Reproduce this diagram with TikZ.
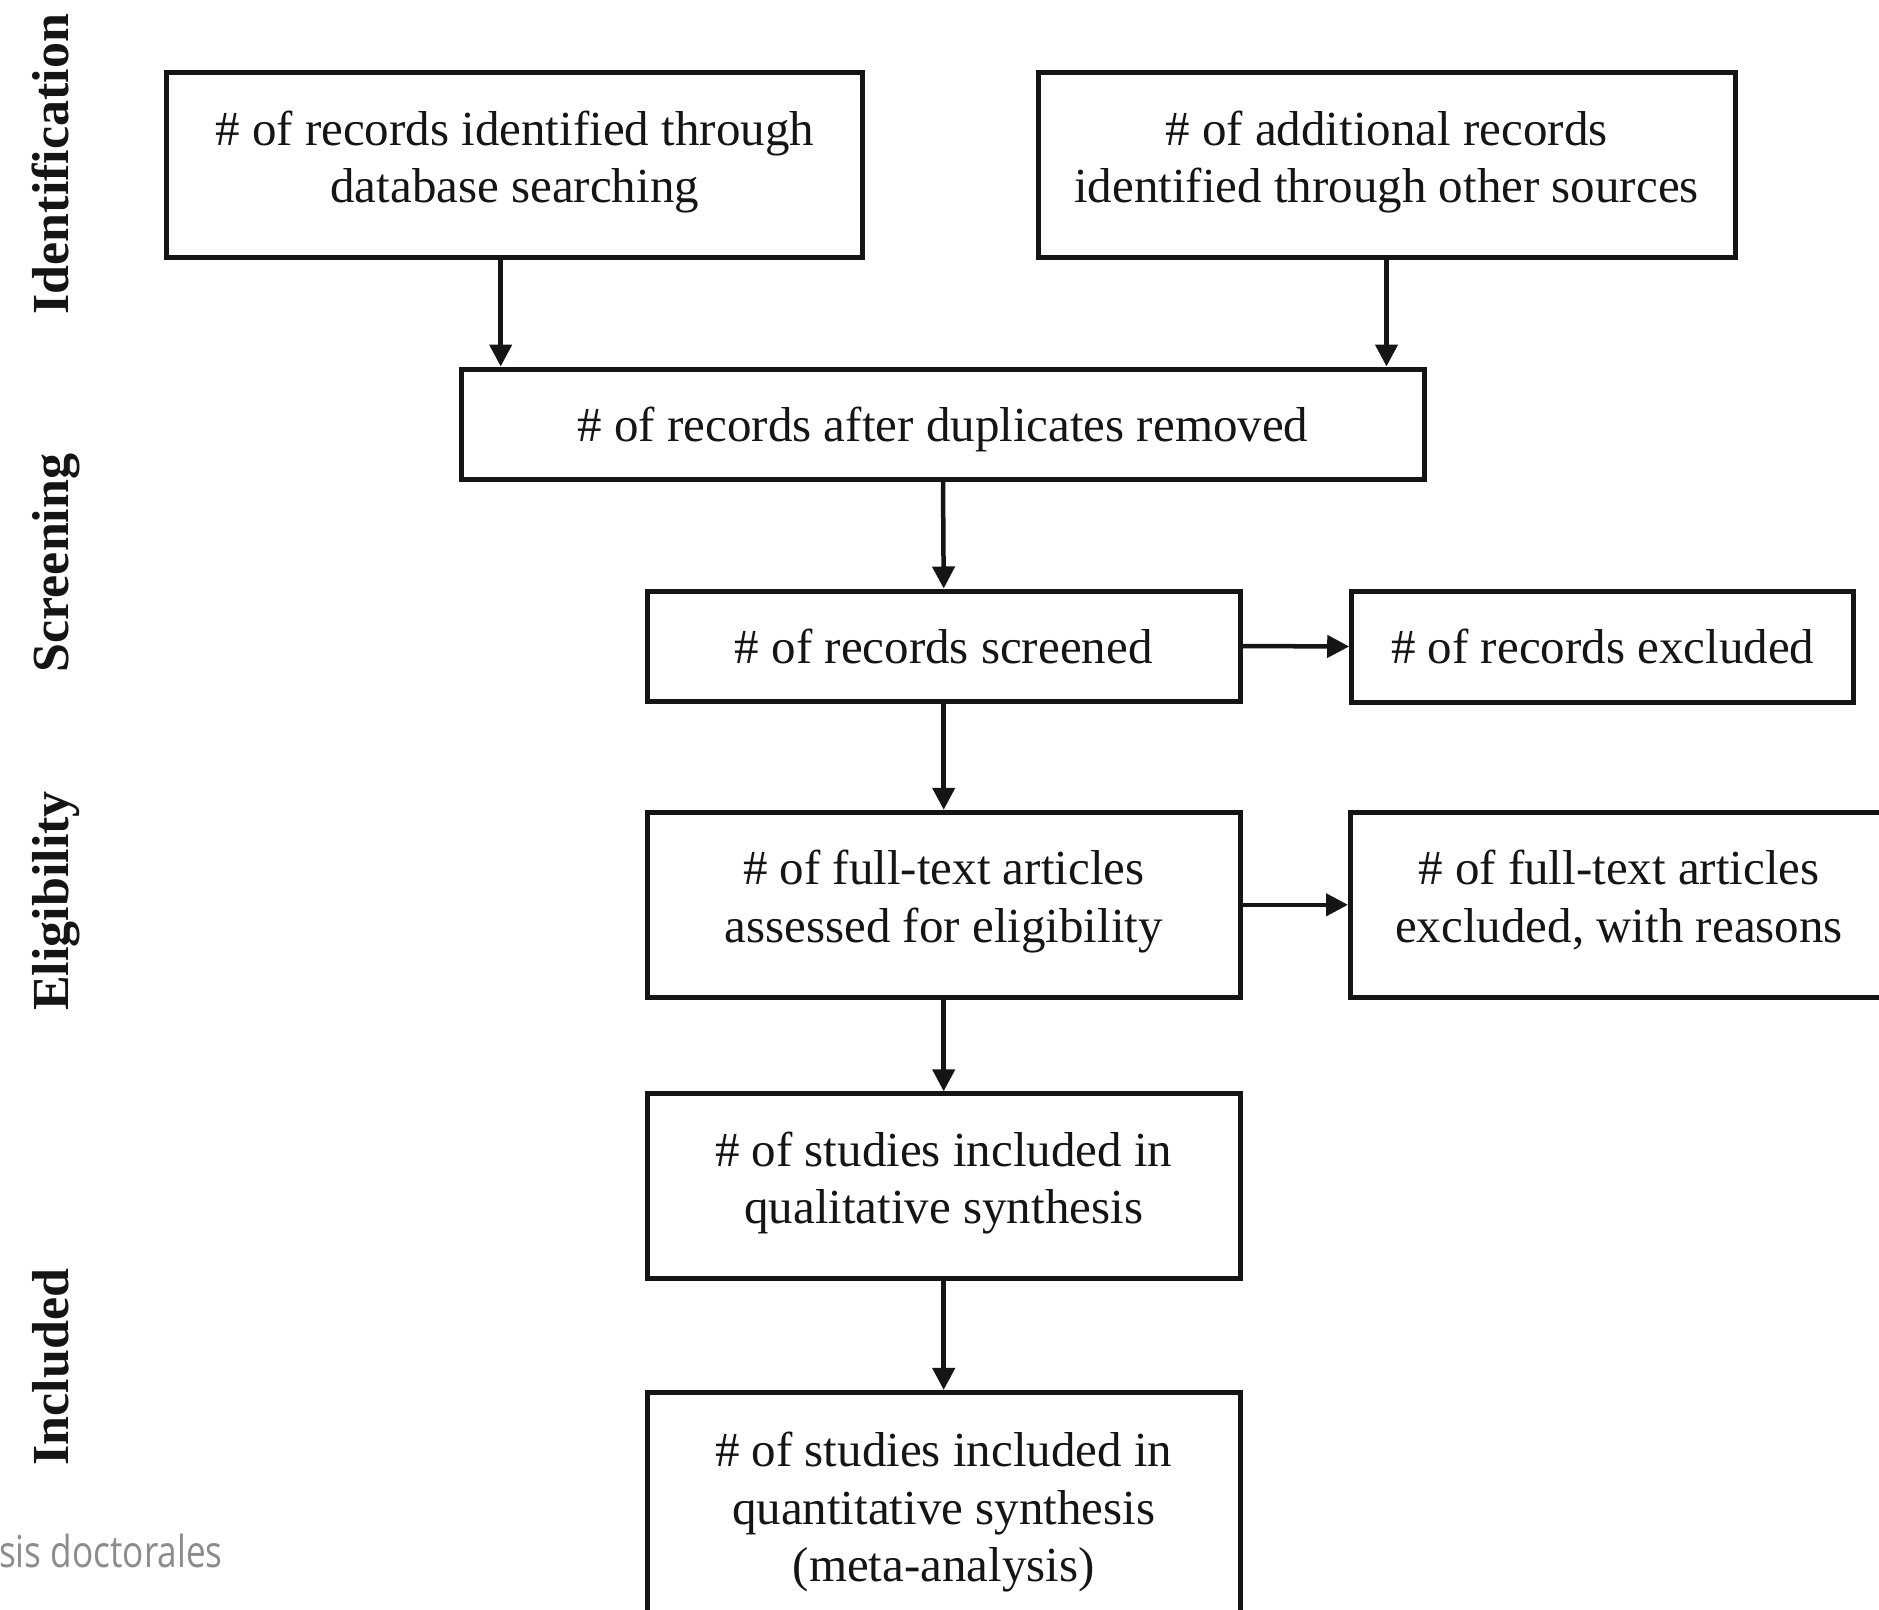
\documentclass[tikz,border=0pt]{standalone}
\usepackage{fontspec}
\setmainfont{Liberation Serif}
\newfontfamily\wmfont[FakeStretch=0.8]{Open Sans}
\usetikzlibrary{arrows.meta}
\definecolor{ink}{HTML}{151515}
\definecolor{wmgray}{HTML}{8C8C8C}
\begin{document}
\begin{tikzpicture}[x=1pt,y=-1pt,
  box/.style={draw=ink, text=ink, line width=5pt, align=center, inner sep=0pt,
    font=\fontsize{49}{57.5}\selectfont},
  twoline/.style={text depth=17pt},
  arr/.style={draw=ink, line width=4.5pt, -{Triangle[length=22pt,width=22pt]}},
  phase/.style={rotate=90, anchor=base, text=ink, font=\bfseries\fontsize{52}{60}\selectfont},
  wm/.style={anchor=base west, text=wmgray, inner sep=0pt, font=\wmfont\fontsize{44}{50}\selectfont}]
\useasboundingbox (0,0) rectangle (1879,1609);
\fill[white] (0,0) rectangle (1879,1609);

% phase labels
\node[phase] (p1) at (68,164) {Identification};
\node[phase] (p2) at (68,563) {Screening};
\node[phase] (p3) at (68,901) {Eligibility};
\node[phase] (p4) at (68,1367) {Included};

% boxes
\node[box, twoline, minimum width=696pt, minimum height=185pt] (b1) at (514.7,165.4)
  {\# of records identified through\\database searching};
\node[box, twoline, minimum width=697pt, minimum height=185pt] (b2) at (1386.5,165.4)
  {\# of additional records\\identified through other sources};
\node[box, text depth=0pt, minimum width=963pt, minimum height=110pt] (b3) at (943,424)
  {\# of records after duplicates removed};
\node[box, minimum width=593pt, minimum height=110pt] (b4) at (943.7,646)
  {\# of records screened};
\node[box, minimum width=502pt, minimum height=111pt] (b5) at (1602.7,646.5)
  {\# of records excluded};
\node[box, twoline, minimum width=593pt, minimum height=185pt] (b6) at (943.7,904.8)
  {\# of full-text articles\\assessed for eligibility};
\node[box, twoline, minimum width=537pt, minimum height=185pt] (b7) at (1619,904.8)
  {\# of full-text articles\\excluded, with reasons};
\node[box, twoline, minimum width=593pt, minimum height=185pt] (b8) at (943.7,1186.3)
  {\# of studies included in\\qualitative synthesis};
\node[box, minimum width=593pt, minimum height=240pt] (b9) at (943.7,1512.4)
  {\# of studies included in\\quantitative synthesis\\(meta-analysis)};

% connectors
\draw[arr] ([xshift=-14pt]b1.south) -- ([xshift=-14pt]b1.south |- b3.north);
\draw[arr] (b2.south) -- (b2.south |- b3.north);
\draw[arr] (b3.south) -- (b4.north);
\draw[arr] (b4.east) -- (b5.west);
\draw[arr] (b4.south) -- (b6.north);
\draw[arr] (b6.east) -- (b6.east -| b7.west);
\draw[arr] (b6.south) -- (b8.north);
\draw[arr] (b8.south) -- (b9.north);

% watermark
\node[wm] (wmtext) at (-1,1567) {sis doctorales};
\end{tikzpicture}
\end{document}
